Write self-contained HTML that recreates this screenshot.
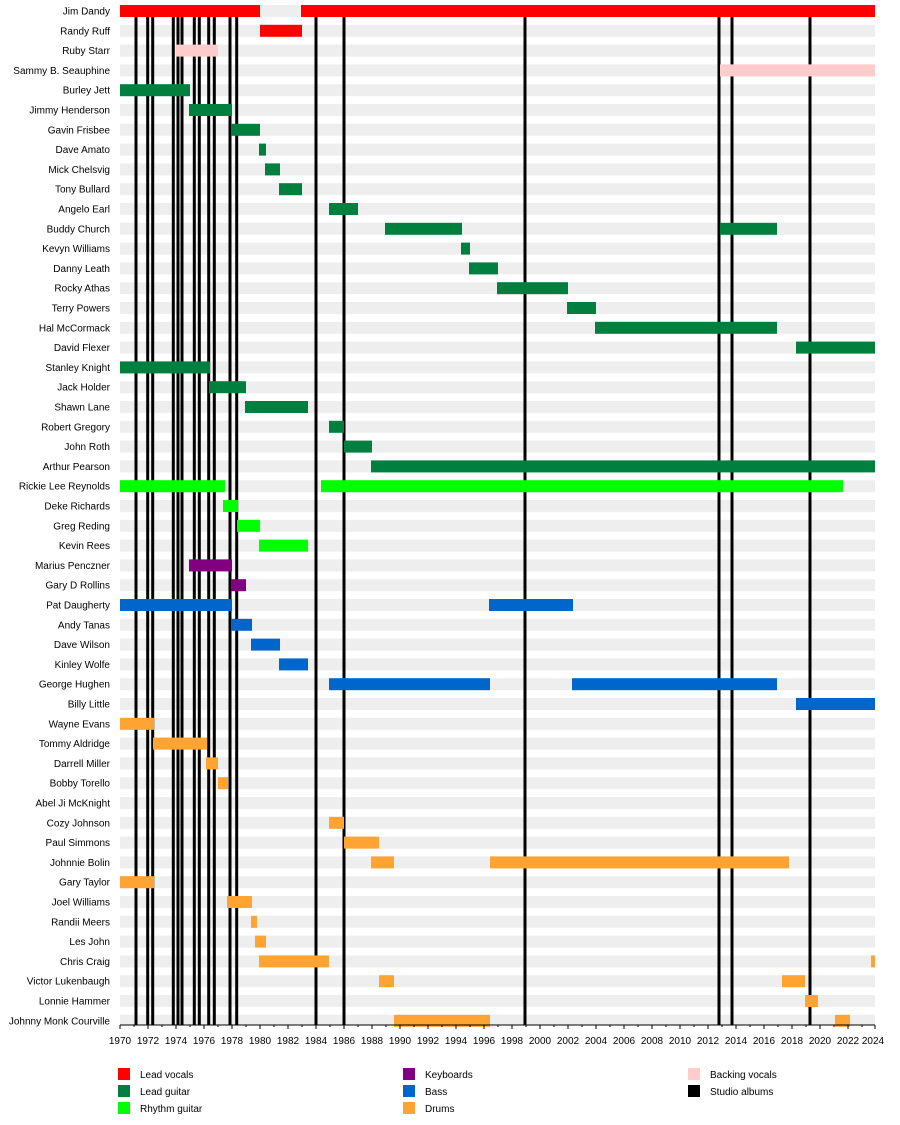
<!DOCTYPE html>
<html><head><meta charset="utf-8"><style>
html,body{margin:0;padding:0;background:#fff}
svg{display:block;font-family:"Liberation Sans",Arial,sans-serif;font-size:10px}
</style></head><body>
<svg width="900" height="1125" viewBox="0 0 900 1125" xmlns="http://www.w3.org/2000/svg">
<defs><pattern id="bg" patternUnits="userSpaceOnUse" x="120" y="5" width="755" height="19.8"><rect x="0" y="0" width="755" height="12" fill="#eeeeee"/></pattern></defs>
<rect x="120" y="5" width="755" height="1020" fill="url(#bg)"/>
<g fill="#000">
<rect x="134.5" y="5" width="3" height="1020"/><rect x="146.2" y="5" width="3" height="1020"/><rect x="151.2" y="5" width="3" height="1020"/>
<rect x="171.8" y="5" width="3" height="1020"/><rect x="176.5" y="5" width="3" height="1020"/><rect x="180.5" y="5" width="3" height="1020"/>
<rect x="192.8" y="5" width="3" height="1020"/><rect x="197.8" y="5" width="3" height="1020"/><rect x="207.2" y="5" width="3" height="1020"/>
<rect x="212.8" y="5" width="3" height="1020"/><rect x="228.5" y="5" width="3" height="1020"/><rect x="235.2" y="5" width="3" height="1020"/>
<rect x="314.5" y="5" width="3" height="1020"/><rect x="342.5" y="5" width="3" height="1020"/><rect x="523.5" y="5" width="3" height="1020"/>
<rect x="717.5" y="5" width="3" height="1020"/><rect x="730.5" y="5" width="3" height="1020"/><rect x="808.5" y="5" width="3" height="1020"/>
</g>
<g fill="#ff0000"><rect x="120" y="5" width="140" height="12"/><rect x="301" y="5" width="574" height="12"/><rect x="260" y="24.8" width="42" height="12"/></g>
<g fill="#ffcccc"><rect x="176" y="44.6" width="42" height="12"/><rect x="720" y="64.4" width="155" height="12"/></g>
<g fill="#007f3f">
<rect x="120" y="84.2" width="70" height="12"/><rect x="189" y="104" width="43" height="12"/><rect x="231" y="123.8" width="29" height="12"/>
<rect x="259" y="143.6" width="7" height="12"/><rect x="265" y="163.4" width="15" height="12"/><rect x="279" y="183.2" width="23" height="12"/>
<rect x="329" y="203" width="29" height="12"/><rect x="385" y="222.8" width="77" height="12"/><rect x="720" y="222.8" width="57" height="12"/>
<rect x="461" y="242.6" width="9" height="12"/><rect x="469" y="262.4" width="29" height="12"/><rect x="497" y="282.2" width="71" height="12"/>
<rect x="567" y="302" width="29" height="12"/><rect x="595" y="321.8" width="182" height="12"/><rect x="796" y="341.6" width="79" height="12"/>
<rect x="120" y="361.4" width="90" height="12"/><rect x="209" y="381.2" width="37" height="12"/><rect x="245" y="401" width="63" height="12"/>
<rect x="329" y="420.8" width="15" height="12"/><rect x="344" y="440.6" width="28" height="12"/><rect x="371" y="460.4" width="504" height="12"/>
</g>
<g fill="#00ff00"><rect x="120" y="480.2" width="105" height="12"/><rect x="321" y="480.2" width="522" height="12"/>
<rect x="223" y="500" width="15" height="12"/><rect x="237" y="519.8" width="23" height="12"/><rect x="259" y="539.6" width="49" height="12"/></g>
<g fill="#800080"><rect x="189" y="559.4" width="43" height="12"/><rect x="231" y="579.2" width="15" height="12"/></g>
<g fill="#0066cc"><rect x="120" y="599" width="112" height="12"/><rect x="489" y="599" width="84" height="12"/>
<rect x="231" y="618.8" width="21" height="12"/><rect x="251" y="638.6" width="29" height="12"/><rect x="279" y="658.4" width="29" height="12"/>
<rect x="329" y="678.2" width="161" height="12"/><rect x="572" y="678.2" width="205" height="12"/><rect x="796" y="698" width="79" height="12"/></g>
<g fill="#ffa333">
<rect x="120" y="717.8" width="34" height="12"/><rect x="153" y="737.6" width="54" height="12"/><rect x="206" y="757.4" width="12" height="12"/>
<rect x="218" y="777.2" width="10" height="12"/><rect x="329" y="816.8" width="15" height="12"/><rect x="344" y="836.6" width="35" height="12"/>
<rect x="371" y="856.4" width="23" height="12"/><rect x="490" y="856.4" width="299" height="12"/><rect x="120" y="876.2" width="34" height="12"/>
<rect x="227" y="896" width="25" height="12"/><rect x="251" y="915.8" width="6" height="12"/><rect x="255" y="935.6" width="11" height="12"/>
<rect x="259" y="955.4" width="70" height="12"/><rect x="871" y="955.4" width="4" height="12"/><rect x="379" y="975.2" width="15" height="12"/>
<rect x="782" y="975.2" width="23" height="12"/><rect x="805" y="995" width="13" height="12"/><rect x="394" y="1014.8" width="96" height="12"/>
<rect x="835" y="1014.8" width="15" height="12"/></g>
<g text-anchor="end" fill="#000">
<text x="110" y="14.5">Jim Dandy</text><text x="110" y="34.3">Randy Ruff</text><text x="110" y="54.1">Ruby Starr</text><text x="110" y="73.9">Sammy B. Seauphine</text>
<text x="110" y="93.7">Burley Jett</text><text x="110" y="113.5">Jimmy Henderson</text><text x="110" y="133.3">Gavin Frisbee</text><text x="110" y="153.1">Dave Amato</text>
<text x="110" y="172.9">Mick Chelsvig</text><text x="110" y="192.7">Tony Bullard</text><text x="110" y="212.5">Angelo Earl</text><text x="110" y="232.3">Buddy Church</text>
<text x="110" y="252.1">Kevyn Williams</text><text x="110" y="271.9">Danny Leath</text><text x="110" y="291.7">Rocky Athas</text><text x="110" y="311.5">Terry Powers</text>
<text x="110" y="331.3">Hal McCormack</text><text x="110" y="351.1">David Flexer</text><text x="110" y="370.9">Stanley Knight</text><text x="110" y="390.7">Jack Holder</text>
<text x="110" y="410.5">Shawn Lane</text><text x="110" y="430.3">Robert Gregory</text><text x="110" y="450.1">John Roth</text><text x="110" y="469.9">Arthur Pearson</text>
<text x="110" y="489.7">Rickie Lee Reynolds</text><text x="110" y="509.5">Deke Richards</text><text x="110" y="529.3">Greg Reding</text><text x="110" y="549.1">Kevin Rees</text>
<text x="110" y="568.9">Marius Penczner</text><text x="110" y="588.7">Gary D Rollins</text><text x="110" y="608.5">Pat Daugherty</text><text x="110" y="628.3">Andy Tanas</text>
<text x="110" y="648.1">Dave Wilson</text><text x="110" y="667.9">Kinley Wolfe</text><text x="110" y="687.7">George Hughen</text><text x="110" y="707.5">Billy Little</text>
<text x="110" y="727.3">Wayne Evans</text><text x="110" y="747.1">Tommy Aldridge</text><text x="110" y="766.9">Darrell Miller</text><text x="110" y="786.7">Bobby Torello</text>
<text x="110" y="806.5">Abel Ji McKnight</text><text x="110" y="826.3">Cozy Johnson</text><text x="110" y="846.1">Paul Simmons</text><text x="110" y="865.9">Johnnie Bolin</text>
<text x="110" y="885.7">Gary Taylor</text><text x="110" y="905.5">Joel Williams</text><text x="110" y="925.3">Randii Meers</text><text x="110" y="945.1">Les John</text>
<text x="110" y="964.9">Chris Craig</text><text x="110" y="984.7">Victor Lukenbaugh</text><text x="110" y="1004.5">Lonnie Hammer</text><text x="110" y="1024.3">Johnny Monk Courville</text>
</g>
<rect x="120" y="1024.5" width="755" height="1" fill="#000"/>
<path d="M120 1025v4M134 1025v2M148 1025v4M162 1025v2M176 1025v4M190 1025v2M204 1025v4M218 1025v2M232 1025v4M246 1025v2M260 1025v4M274 1025v2M288 1025v4M302 1025v2M316 1025v4M330 1025v2M344 1025v4M358 1025v2M372 1025v4M386 1025v2M400 1025v4M414 1025v2M428 1025v4M442 1025v2M456 1025v4M470 1025v2M484 1025v4M498 1025v2M512 1025v4M526 1025v2M540 1025v4M554 1025v2M568 1025v4M582 1025v2M596 1025v4M610 1025v2M624 1025v4M638 1025v2M652 1025v4M666 1025v2M680 1025v4M694 1025v2M708 1025v4M722 1025v2M736 1025v4M750 1025v2M764 1025v4M778 1025v2M792 1025v4M806 1025v2M820 1025v4M834 1025v2M848 1025v4M862 1025v2M875 1025v4" stroke="#000" stroke-width="1"/>
<g text-anchor="middle" fill="#000">
<text x="120" y="1044">1970</text><text x="148" y="1044">1972</text><text x="176" y="1044">1974</text><text x="204" y="1044">1976</text><text x="232" y="1044">1978</text><text x="260" y="1044">1980</text><text x="288" y="1044">1982</text><text x="316" y="1044">1984</text><text x="344" y="1044">1986</text><text x="372" y="1044">1988</text><text x="400" y="1044">1990</text><text x="428" y="1044">1992</text><text x="456" y="1044">1994</text><text x="484" y="1044">1996</text><text x="512" y="1044">1998</text><text x="540" y="1044">2000</text><text x="568" y="1044">2002</text><text x="596" y="1044">2004</text><text x="624" y="1044">2006</text><text x="652" y="1044">2008</text><text x="680" y="1044">2010</text><text x="708" y="1044">2012</text><text x="736" y="1044">2014</text><text x="764" y="1044">2016</text><text x="792" y="1044">2018</text><text x="820" y="1044">2020</text><text x="848" y="1044">2022</text><text x="873" y="1044">2024</text>
</g>
<rect x="118" y="1068" width="12" height="12" fill="#ff0000"/><text x="140" y="1078">Lead vocals</text>
<rect x="118" y="1085" width="12" height="12" fill="#007f3f"/><text x="140" y="1095">Lead guitar</text>
<rect x="118" y="1102" width="12" height="12" fill="#00ff00"/><text x="140" y="1112">Rhythm guitar</text>
<rect x="403" y="1068" width="12" height="12" fill="#800080"/><text x="425" y="1078">Keyboards</text>
<rect x="403" y="1085" width="12" height="12" fill="#0066cc"/><text x="425" y="1095">Bass</text>
<rect x="403" y="1102" width="12" height="12" fill="#ffa333"/><text x="425" y="1112">Drums</text>
<rect x="688" y="1068" width="12" height="12" fill="#ffcccc"/><text x="710" y="1078">Backing vocals</text>
<rect x="688" y="1085" width="12" height="12" fill="#000"/><text x="710" y="1095">Studio albums</text>
</svg>
</body></html>
